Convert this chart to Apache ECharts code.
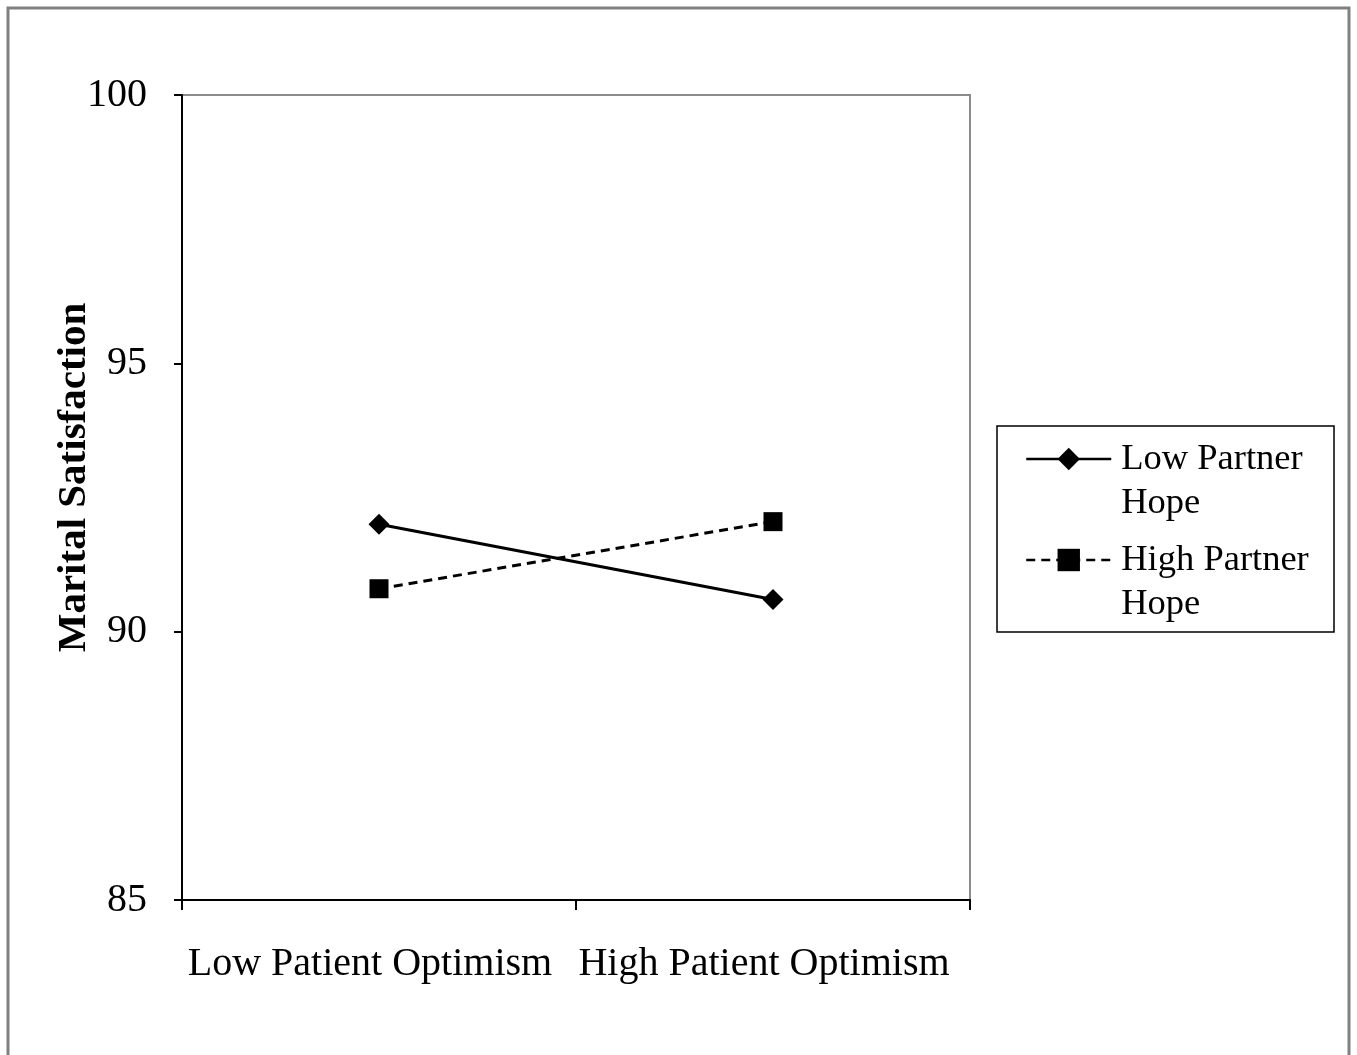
<!DOCTYPE html>
<html>
<head>
<meta charset="utf-8">
<script src="https://cdn.jsdelivr.net/npm/echarts@6/dist/echarts.min.js"></script>
<style>
html,body{margin:0;padding:0;background:#fff;}
#chart{width:1357px;height:1055px;}
</style>
</head>
<body>
<div id="chart"></div>
<script>
var categories = ['Low Patient Optimism', 'High Patient Optimism'];
var seriesNames = ['Low Partner Hope', 'High Partner Hope'];
var lowPartnerHope = [92.0, 90.6];
var highPartnerHope = [90.8, 92.05];
var yTicks = [85, 90, 95, 100];

var font = '"Liberation Serif", "Times New Roman", serif';
var chart = echarts.init(document.getElementById('chart'));
chart.setOption({
  backgroundColor: '#fff',
  animation: false,
  graphic: [{
    type: 'rect',
    shape: {x: 8, y: 8, width: 1341, height: 1060},
    style: {fill: 'none', stroke: '#808080', lineWidth: 3},
    silent: true
  }, {
    type: 'rect',
    shape: {x: 997, y: 426, width: 337, height: 206},
    style: {fill: 'none', stroke: '#000', lineWidth: 1.5},
    silent: true,
    z: 10
  }],
  grid: {
    left: 182, top: 95, right: 387, bottom: 155,
    show: true, borderColor: '#8c8c8c', borderWidth: 2, backgroundColor: 'transparent'
  },
  legend: {
    orient: 'vertical',
    left: 1025, top: 393,
    padding: 0,
    itemGap: -31,
    itemWidth: 85, itemHeight: 28,
    data: seriesNames,
    lineStyle: {width: 2.5},
    formatter: function (name) { return '\n' + name; },
    textStyle: {
      fontFamily: font, fontSize: 36.5, color: '#000',
      width: 200, overflow: 'break', lineHeight: 44,
      padding: [0, 0, 0, 5]
    }
  },
  xAxis: {
    type: 'category',
    data: categories,
    boundaryGap: true,
    axisLine: {lineStyle: {color: '#000', width: 2}},
    axisTick: {show: true, interval: 0, length: 10, alignWithLabel: false, lineStyle: {color: '#000', width: 2}},
    axisLabel: {fontFamily: font, fontSize: 40, color: '#000', margin: 44, interval: 0, hideOverlap: false, padding: [0, 18, 0, 0]}
  },
  yAxis: {
    type: 'value',
    min: 85, max: 100, interval: 5,
    name: 'Marital Satisfaction',
    nameLocation: 'middle',
    nameGap: 87,
    nameMoveOverlap: false,
    nameTextStyle: {fontFamily: font, fontSize: 41, fontWeight: 'bold', color: '#000', padding: [0, 0, 0, 40]},
    axisLine: {show: true, lineStyle: {color: '#000', width: 2}},
    axisTick: {show: true, length: 8, lineStyle: {color: '#000', width: 2}},
    splitLine: {show: false},
    axisLabel: {
      fontFamily: font, fontSize: 40, color: '#000', margin: 35,
      formatter: function (v) { return yTicks.indexOf(v) >= 0 ? String(v) : ''; }
    }
  },
  series: [{
    name: seriesNames[0],
    type: 'line',
    data: lowPartnerHope,
    symbol: 'diamond', symbolSize: 21,
    itemStyle: {color: '#000'},
    lineStyle: {color: '#000', width: 3, type: 'solid'}
  }, {
    name: seriesNames[1],
    type: 'line',
    data: highPartnerHope,
    symbol: 'rect', symbolSize: 19,
    itemStyle: {color: '#000'},
    lineStyle: {color: '#000', width: 3, type: [9, 6]}
  }]
});
</script>
</body>
</html>
